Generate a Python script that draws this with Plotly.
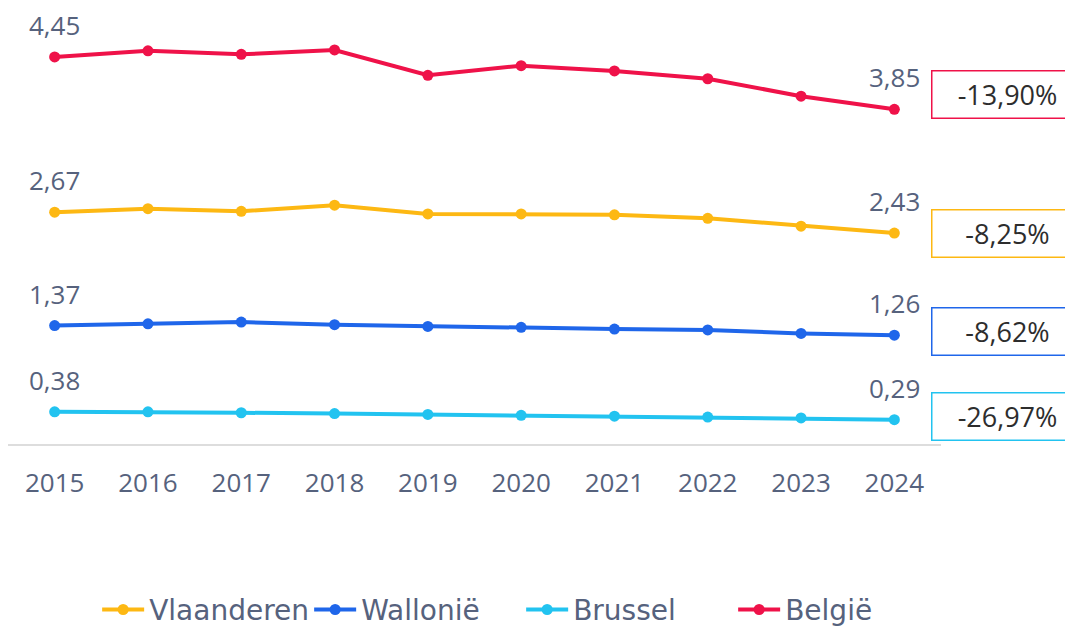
import plotly.graph_objects as go

years = [2015, 2016, 2017, 2018, 2019, 2020, 2021, 2022, 2023, 2024]
vlaanderen = [2.67, 2.71, 2.68, 2.75, 2.65, 2.65, 2.64, 2.60, 2.51, 2.43]
wallonie = [1.37, 1.39, 1.41, 1.38, 1.36, 1.35, 1.33, 1.32, 1.28, 1.26]
brussel = [0.38, 0.38, 0.37, 0.36, 0.35, 0.34, 0.33, 0.32, 0.31, 0.29]
belgie = [4.45, 4.52, 4.48, 4.53, 4.24, 4.35, 4.29, 4.20, 4.00, 3.85]

series_names = ["Vlaanderen", "Wallonië", "Brussel", "België"]
series_values = [vlaanderen, wallonie, brussel, belgie]
series_colors = ["#FDB813", "#1F66EA", "#22C3F0", "#EF1249"]
change_labels = ["-8,25%", "-8,62%", "-26,97%", "-13,90%"]
box_offsets = [0.0, 0.04, 0.04, 0.17]

label_color = "#56627D"
font_family = "Open Sans"

fig = go.Figure()
for name, vals, col in zip(series_names, series_values, series_colors):
    fig.add_trace(go.Scatter(
        x=years, y=vals, name=name, mode="lines+markers",
        line=dict(color=col, width=4),
        marker=dict(color=col, size=11),
        hoverinfo="skip",
    ))

annotations = []
for vals, col, chg, off in zip(series_values, series_colors, change_labels, box_offsets):
    for idx in (0, len(years) - 1):
        annotations.append(dict(
            x=years[idx], y=vals[idx], xref="x", yref="y",
            text=f"{vals[idx]:.2f}".replace(".", ","),
            showarrow=False, yanchor="middle", yshift=32,
            font=dict(family=font_family, size=26, color=label_color),
        ))
    annotations.append(dict(
        x=1.0, xref="paper", y=vals[-1] + off, yref="y",
        xanchor="left", yanchor="middle", xshift=-10,
        text=chg, showarrow=False,
        width=150, height=46, borderwidth=1.5, bordercolor=col,
        bgcolor="white", borderpad=0,
        font=dict(family=font_family, size=27, color="#2D2D2D"),
    ))

fig.update_layout(
    width=1073, height=627,
    margin=dict(l=0, r=140, t=1, b=190, autoexpand=False),
    plot_bgcolor="white", paper_bgcolor="white",
    showlegend=True,
    legend=dict(
        orientation="h", x=0.55, xanchor="center", y=-0.378, yanchor="middle",
        font=dict(family="DejaVu Sans", size=28, color=label_color),
        itemwidth=42, tracegroupgap=0,
        entrywidth=155, entrywidthmode="pixels",
    ),
    xaxis=dict(
        range=[2014.5, 2024.5], tickmode="array", tickvals=years,
        ticktext=[str(y) for y in years],
        showgrid=False, zeroline=False, showline=False,
        ticks="", ticklabelstandoff=20,
        tickfont=dict(family=font_family, size=26, color=label_color),
    ),
    yaxis=dict(
        range=[0, 5], showgrid=False, showticklabels=False,
        zeroline=True, zerolinecolor="#DDDDDD", zerolinewidth=1.5,
        showline=False, ticks="",
    ),
    annotations=annotations,
)

fig.write_html("out.html")
